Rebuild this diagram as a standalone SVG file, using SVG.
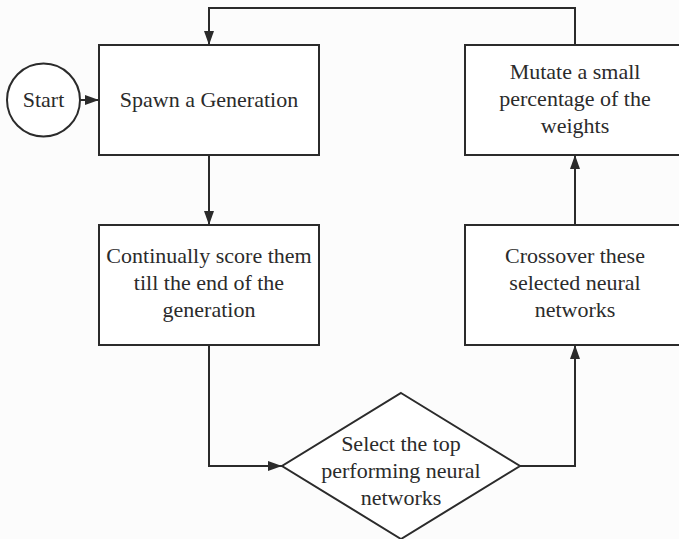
<svg xmlns="http://www.w3.org/2000/svg" width="679" height="539" viewBox="0 0 679 539">
<defs>
<style>
.n{fill:#fff;stroke:#2b2b2b;stroke-width:2}
.t{font-family:'Liberation Serif','DejaVu Serif',Times,serif;font-size:22px;fill:#2b2b2b;text-anchor:middle}
.c{fill:none;stroke:#2b2b2b;stroke-width:2}
</style>
<marker id="ah" viewBox="0 0 14 10" refX="14" refY="5" markerWidth="14" markerHeight="10" markerUnits="userSpaceOnUse" orient="auto">
<path d="M0,0 L14,5 L0,10 Z" fill="#2b2b2b"/>
</marker>
</defs>
<rect x="0" y="0" width="679" height="539" fill="#fcfcfc"/>
<g id="connectors">
<path class="c" d="M80,100 L99,100" marker-end="url(#ah)"/>
<path class="c" d="M209,155 L209,225" marker-end="url(#ah)"/>
<path class="c" d="M209,345 L209,466 L282,466" marker-end="url(#ah)"/>
<path class="c" d="M520,466 L575,466 L575,345" marker-end="url(#ah)"/>
<path class="c" d="M575,225 L575,155" marker-end="url(#ah)"/>
<path class="c" d="M575,45 L575,8 L209,8 L209,45" marker-end="url(#ah)"/>
</g>
<g id="start">
<circle class="n" cx="43.5" cy="100" r="36.5"/>
<text class="t" x="43.5" y="107">Start</text>
</g>
<g id="spawn">
<rect class="n" x="99" y="45" width="220" height="110"/>
<text class="t" x="209" y="107">Spawn a Generation</text>
</g>
<g id="score">
<rect class="n" x="99" y="225" width="220" height="120"/>
<text class="t" x="209" y="263">Continually score them</text>
<text class="t" x="209" y="290">till the end of the</text>
<text class="t" x="209" y="317">generation</text>
</g>
<g id="select">
<polygon class="n" points="401,393 520,466 401,539 282,466"/>
<text class="t" x="401" y="451">Select the top</text>
<text class="t" x="401" y="478">performing neural</text>
<text class="t" x="401" y="505">networks</text>
</g>
<g id="crossover">
<rect class="n" x="465" y="225" width="220" height="120"/>
<text class="t" x="575" y="263">Crossover these</text>
<text class="t" x="575" y="290">selected neural</text>
<text class="t" x="575" y="317">networks</text>
</g>
<g id="mutate">
<rect class="n" x="465" y="45" width="220" height="110"/>
<text class="t" x="575" y="79">Mutate a small</text>
<text class="t" x="575" y="106">percentage of the</text>
<text class="t" x="575" y="133">weights</text>
</g>
</svg>
